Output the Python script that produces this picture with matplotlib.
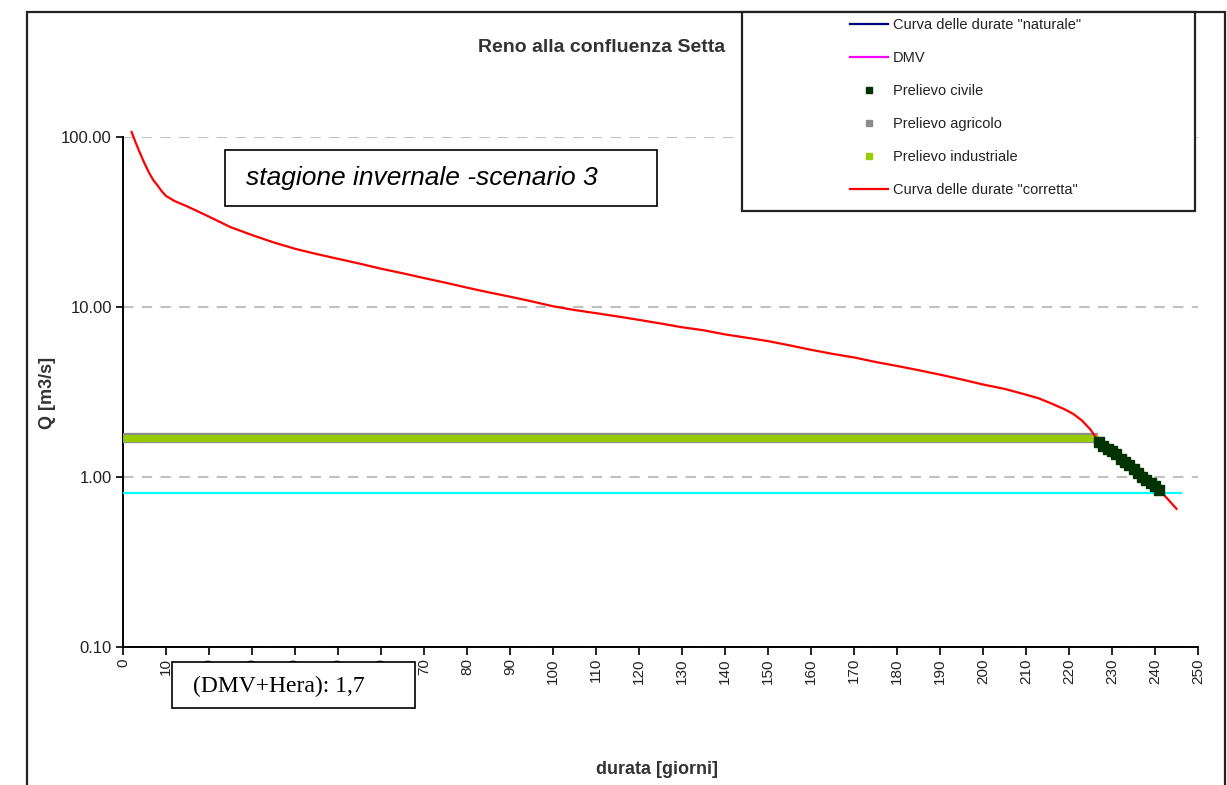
import matplotlib
matplotlib.use("Agg")
import matplotlib.pyplot as plt
from matplotlib.lines import Line2D
from matplotlib.patches import Rectangle
from matplotlib.ticker import FixedLocator, FixedFormatter, NullLocator

plt.rcParams['font.family'] = ['Liberation Sans', 'DejaVu Sans']

# Curva delle durate "corretta" (giorni, Q m3/s)
giorni = [2, 3, 4, 5, 6, 7, 8, 9, 10, 12, 15, 20, 25, 30, 35, 40, 45, 50, 55, 60,
          65, 70, 75, 80, 85, 90, 95, 100, 105, 110, 115, 120, 125, 130, 135, 140,
          145, 150, 155, 160, 165, 170, 175, 180, 185, 190, 195, 200, 205, 210,
          213, 216, 219, 221, 223, 225, 227, 229, 231, 233, 235, 237, 239, 241,
          243, 245]
q_corretta = [107, 92, 80, 70, 62, 56, 52, 48, 45, 42, 39, 34, 29.5, 26.5, 24, 22,
              20.5, 19.2, 18, 16.8, 15.8, 14.8, 13.9, 13, 12.2, 11.5, 10.8, 10.1,
              9.6, 9.2, 8.8, 8.4, 8.0, 7.6, 7.3, 6.9, 6.6, 6.3, 5.95, 5.6, 5.3,
              5.05, 4.75, 4.5, 4.25, 4.0, 3.75, 3.5, 3.3, 3.05, 2.9, 2.7, 2.5,
              2.35, 2.15, 1.9, 1.6, 1.47, 1.36, 1.22, 1.12, 1.0, 0.92, 0.84,
              0.74, 0.65]

# Prelievo civile
civile_giorni = [227, 228, 229, 230, 231, 232, 233, 234, 235, 236, 237, 238, 239, 240, 241]
civile_q = [1.6, 1.53, 1.47, 1.42, 1.36, 1.28, 1.22, 1.17, 1.12, 1.06, 1.0, 0.96, 0.92, 0.88, 0.84]

# Prelievo agricolo / industriale (DMV+Hera) e DMV
prelievo_giorni = [0, 226.7]
prelievo_q = [1.7, 1.7]
dmv_giorni = [0, 246]
dmv_q = [0.8, 0.8]

y_ticks = [0.1, 1, 10, 100]
y_labels = ['0.10', '1.00', '10.00', '100.00']
x_ticks = list(range(0, 260, 10))

W, H = 1227, 785
fig = plt.figure(figsize=(W / 100, H / 100), dpi=100)
ax = fig.add_axes([123 / W, 1 - 647 / H, 1075 / W, 510 / H])

ax.plot(prelievo_giorni, prelievo_q, color='#8c8c8c', lw=7.4, solid_capstyle='butt', zorder=3)
ax.plot(prelievo_giorni, prelievo_q, color='#99cc00', lw=5.0, solid_capstyle='butt', zorder=4)
ax.plot(dmv_giorni, dmv_q, color='#00ffff', lw=1.6, zorder=3)
ax.plot(giorni, q_corretta, color='#ff0000', lw=1.6, zorder=5, clip_on=False)
ax.plot(civile_giorni, civile_q, 's', color='#003300', ms=6.5, zorder=6)

ax.set_yscale('log')
ax.set_ylim(0.1, 100)
ax.set_xlim(0, 250)
ax.yaxis.set_major_locator(FixedLocator(y_ticks))
ax.yaxis.set_major_formatter(FixedFormatter(y_labels))
ax.yaxis.set_minor_locator(NullLocator())
ax.set_xticks(x_ticks)
ax.set_xticklabels([str(v) for v in x_ticks], rotation=90)

ax.yaxis.grid(True, linestyle=(0, (5, 4)), color='#c0c0c0', lw=1.5)
ax.set_axisbelow(True)
for s in ['top', 'right']:
    ax.spines[s].set_visible(False)
for s in ['left', 'bottom']:
    ax.spines[s].set_linewidth(1.4)
ax.tick_params(axis='y', direction='out', length=5, width=1.2, labelsize=12,
               labelcolor='#222222', pad=3)
ax.tick_params(axis='x', direction='out', length=6, width=1.2, labelsize=11,
               labelcolor='#222222', pad=2)

# cornice esterna
fig.add_artist(Rectangle((27 / W, -0.05), 1198 / W, 1 - 12 / H + 0.05,
                         transform=fig.transFigure, fill=False, lw=1.6,
                         edgecolor='#222222', zorder=1))

fig.text(478 / W, 1 - 47 / H, 'Reno alla confluenza Setta', fontsize=14,
         fontweight='bold', color='#333333', ha='left', va='center', zorder=2)
fig.text(48 / W, 1 - 393 / H, 'Q [m3/s]', fontsize=13, fontweight='bold',
         color='#333333', rotation=90, ha='center', va='center')
fig.text(657 / W, 1 - 770 / H, 'durata [giorni]', fontsize=13, fontweight='bold',
         color='#333333', ha='center', va='center')

# riquadro scenario
fig.add_artist(Rectangle((225 / W, 1 - 206 / H), 432 / W, 56 / H,
                         transform=fig.transFigure, facecolor='white',
                         edgecolor='black', lw=1.2, zorder=7))
fig.text(246 / W, 1 - 178 / H, 'stagione invernale -scenario 3', fontsize=19,
         style='italic', ha='left', va='center', zorder=8)

# riquadro DMV+Hera
fig.add_artist(Rectangle((172 / W, 1 - 708 / H), 243 / W, 46 / H,
                         transform=fig.transFigure, facecolor='white',
                         edgecolor='black', lw=1.2, zorder=7))
fig.text(193 / W, 1 - 686 / H, '(DMV+Hera): 1,7', fontsize=17,
         family=['Liberation Serif', 'DejaVu Serif'], ha='left', va='center', zorder=8)

# legenda
fig.add_artist(Rectangle((742 / W, 1 - 211 / H), 453 / W, 199 / H,
                         transform=fig.transFigure, facecolor='white',
                         edgecolor='#222222', lw=1.6, zorder=9))
handles = [
    Line2D([], [], color='#000080', lw=1.6),
    Line2D([], [], color='#ff00ff', lw=1.6),
    Line2D([], [], ls='none', marker='s', color='#003300', ms=5),
    Line2D([], [], ls='none', marker='s', color='#8c8c8c', ms=5),
    Line2D([], [], ls='none', marker='s', color='#99cc00', ms=5),
    Line2D([], [], color='#ff0000', lw=1.6),
]
labels = ['Curva delle durate "naturale"', 'DMV', 'Prelievo civile',
          'Prelievo agricolo', 'Prelievo industriale', 'Curva delle durate "corretta"']
leg = fig.legend(handles, labels, loc='upper left', bbox_to_anchor=(850 / W, 1 - 18 / H),
                 frameon=False, fontsize=10.5, labelspacing=1.3, handlelength=2.6,
                 handletextpad=0.35, borderpad=0, borderaxespad=0, numpoints=1)
leg.set_zorder(10)
for t in leg.get_texts():
    t.set_color('#222222')

fig.savefig('out.png', dpi=100)
